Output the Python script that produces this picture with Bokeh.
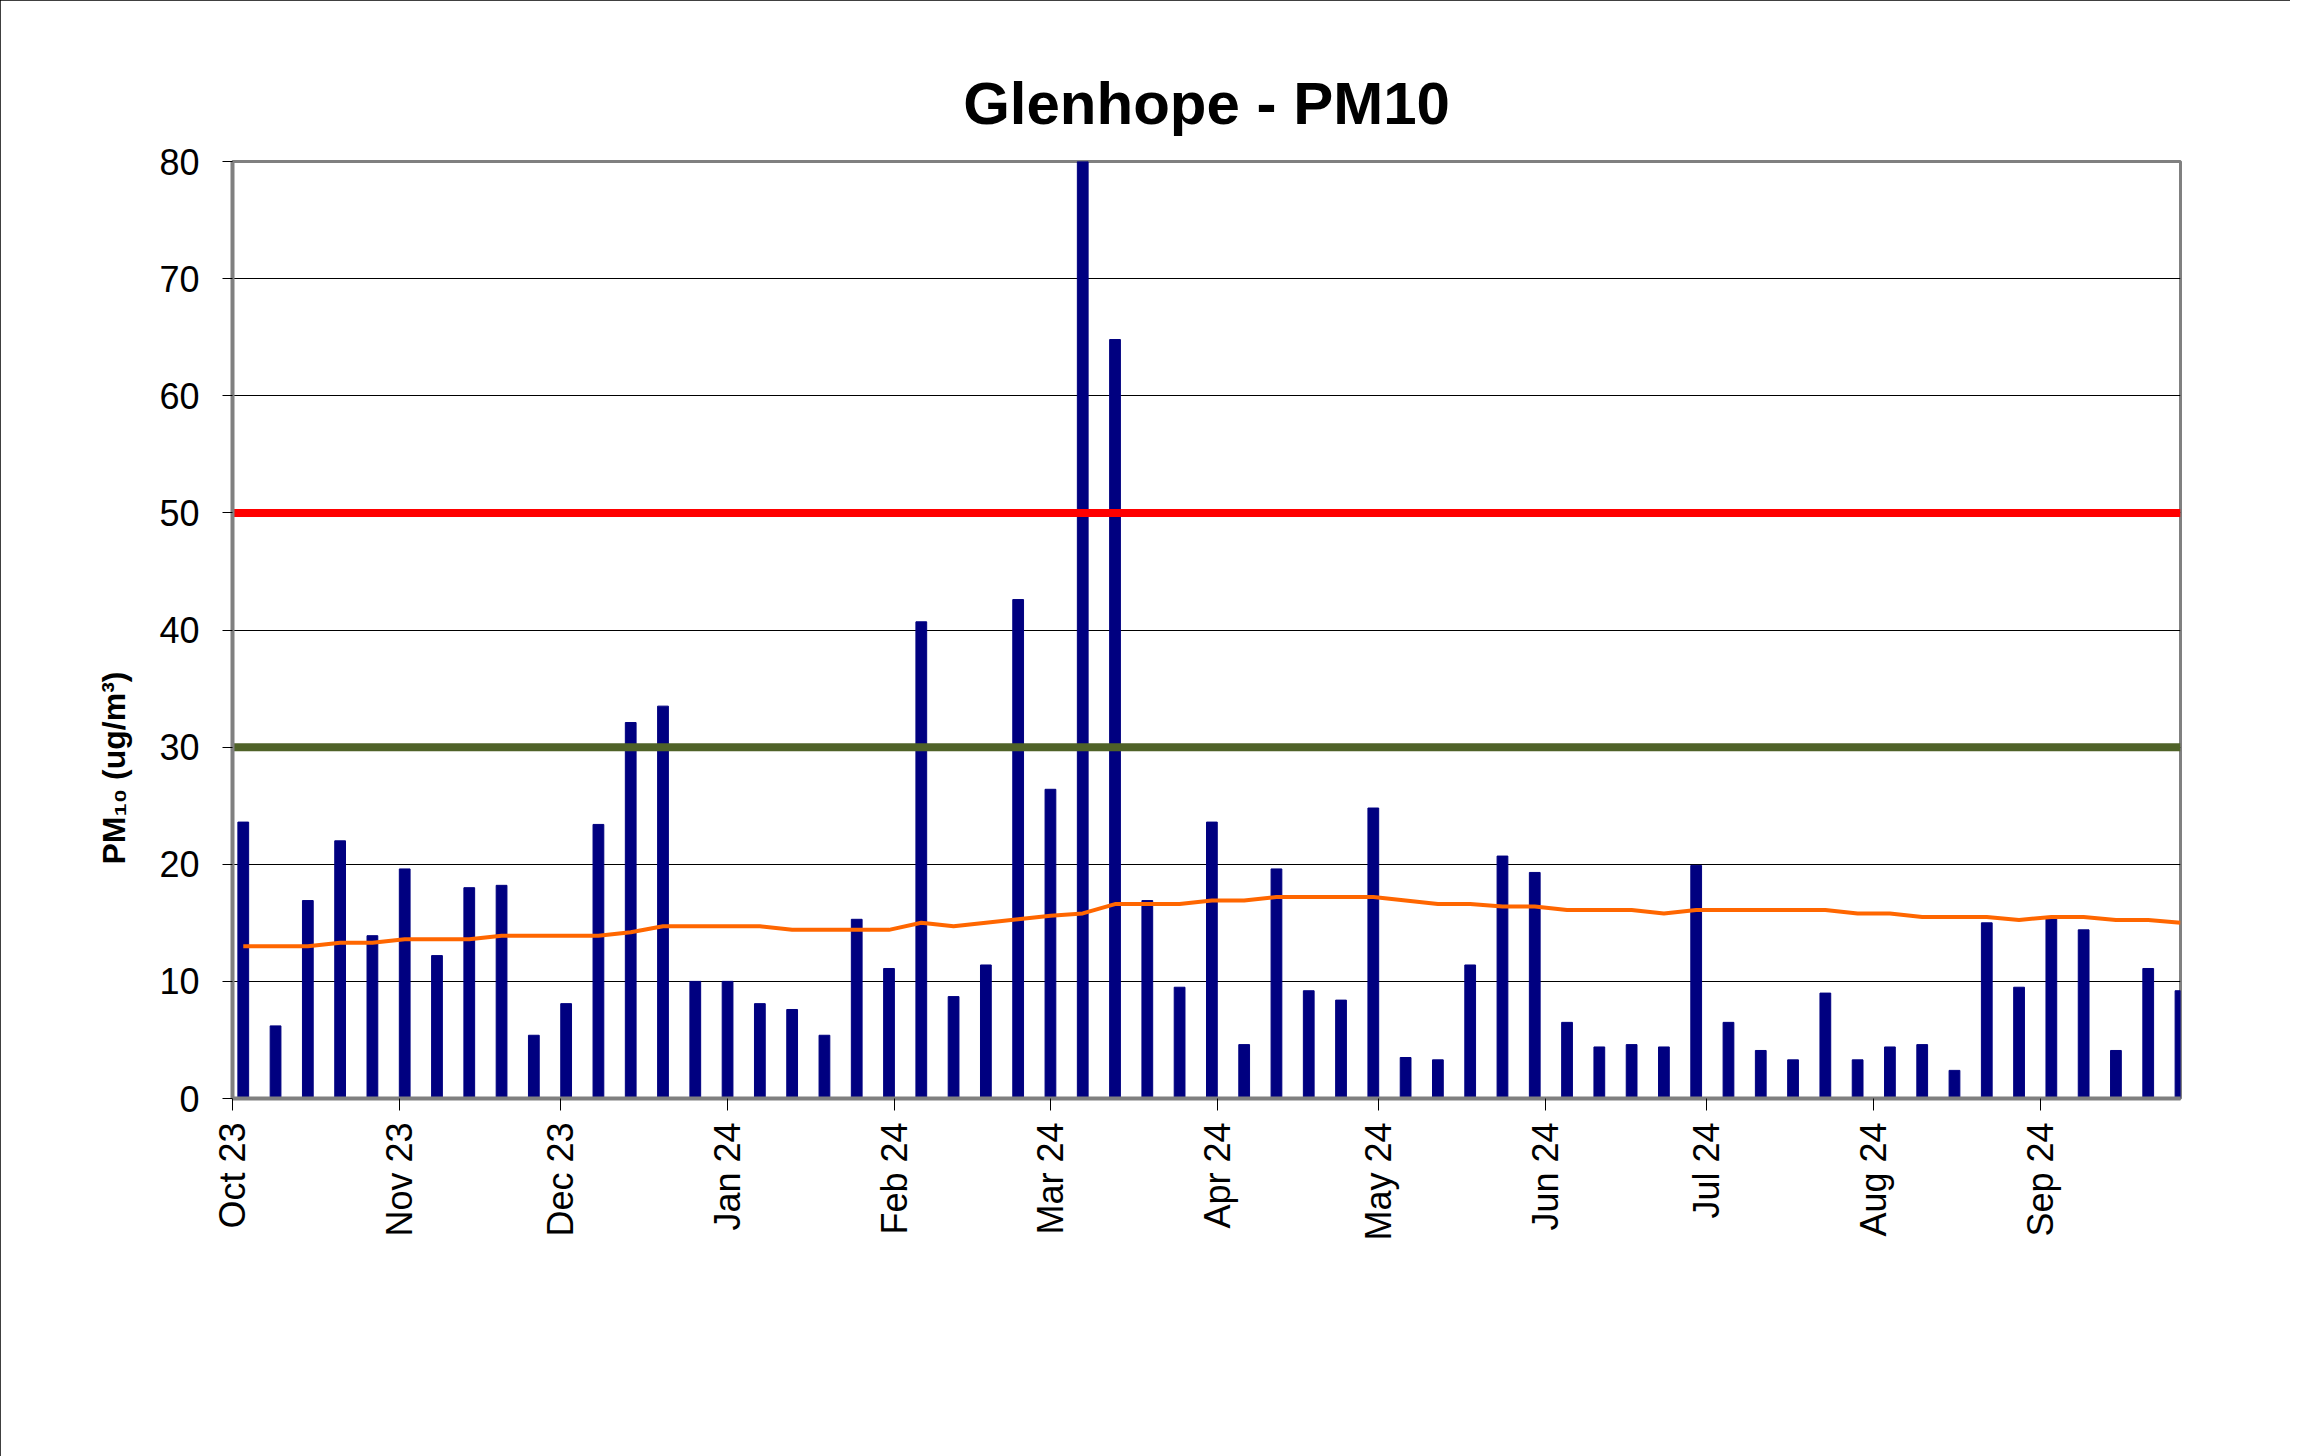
import math
import pandas as pd
from bokeh.plotting import figure
from bokeh.models import (FixedTicker, DatetimeTickFormatter, Legend, LegendItem,
                          Title, Range1d, ColumnDataSource)
from bokeh.embed import file_html
from bokeh.resources import INLINE

# ---------------- data ----------------
sample_dates = [
    "2023-10-03", "2023-10-09", "2023-10-15", "2023-10-21", "2023-10-27",
    "2023-11-02", "2023-11-08", "2023-11-14", "2023-11-20", "2023-11-26",
    "2023-12-02", "2023-12-08", "2023-12-14", "2023-12-20", "2023-12-26",
    "2024-01-01", "2024-01-07", "2024-01-13", "2024-01-19", "2024-01-25", "2024-01-31",
    "2024-02-06", "2024-02-12", "2024-02-18", "2024-02-24",
    "2024-03-01", "2024-03-07", "2024-03-13", "2024-03-19", "2024-03-25", "2024-03-31",
    "2024-04-06", "2024-04-12", "2024-04-18", "2024-04-24", "2024-04-30",
    "2024-05-06", "2024-05-12", "2024-05-18", "2024-05-24", "2024-05-30",
    "2024-06-05", "2024-06-11", "2024-06-17", "2024-06-23", "2024-06-29",
    "2024-07-05", "2024-07-11", "2024-07-17", "2024-07-23", "2024-07-29",
    "2024-08-04", "2024-08-10", "2024-08-16", "2024-08-22", "2024-08-28",
    "2024-09-03", "2024-09-09", "2024-09-15", "2024-09-21", "2024-09-27",
]
pm10 = [
    23.6, 6.2, 16.9, 22.0, 13.9,
    19.6, 12.2, 18.0, 18.2, 5.4,
    8.1, 23.4, 32.1, 33.5, 10.0,
    10.0, 8.1, 7.6, 5.4, 15.3, 11.1,
    40.7, 8.7, 11.4, 42.6,
    26.4, 80.0, 64.8, 16.9, 9.5, 23.6,
    4.6, 19.6, 9.2, 8.4, 24.8,
    3.5, 3.3, 11.4, 20.7, 19.3,
    6.5, 4.4, 4.6, 4.4, 19.9,
    6.5, 4.1, 3.3, 9.0, 3.3,
    4.4, 4.6, 2.4, 15.0, 9.5,
    15.5, 14.4, 4.1, 11.1, 9.2,
]
rolling_avg = [
    13.0, 13.0, 13.0, 13.3, 13.3,
    13.6, 13.6, 13.6, 13.9, 13.9,
    13.9, 13.9, 14.2, 14.7, 14.7,
    14.7, 14.7, 14.4, 14.4, 14.4, 14.4,
    15.0, 14.7, 15.0, 15.3,
    15.6, 15.8, 16.6, 16.6, 16.6, 16.9,
    16.9, 17.2, 17.2, 17.2, 17.2,
    16.9, 16.6, 16.6, 16.4, 16.4,
    16.1, 16.1, 16.1, 15.8, 16.1,
    16.1, 16.1, 16.1, 16.1, 15.8,
    15.8, 15.5, 15.5, 15.5, 15.25,
    15.5, 15.5, 15.25, 15.25, 15.0,
]
crit_24hr = 50
crit_annual = 30
month_ticks = ["2023-10-01", "2023-11-01", "2023-12-01", "2024-01-01", "2024-02-01",
               "2024-03-01", "2024-04-01", "2024-05-01", "2024-06-01", "2024-07-01",
               "2024-08-01", "2024-09-01"]
month_labels = ["Oct 23", "Nov 23", "Dec 23", "Jan 24", "Feb 24", "Mar 24",
                "Apr 24", "May 24", "Jun 24", "Jul 24", "Aug 24", "Sep 24"]
y_ticks = [0, 10, 20, 30, 40, 50, 60, 70, 80]
x_start = "2023-10-01"
x_end = "2024-09-27"

# ---------------- helpers ----------------
def ms(d):
    return pd.Timestamp(d).value // 10**6

DAY = 86400000
FONT = "Liberation Sans"

dates = [pd.Timestamp(d) for d in sample_dates]
src = ColumnDataSource(dict(x=dates, pm=pm10, ra=rolling_avg))

p = figure(frame_width=1948, frame_height=937, x_axis_type="datetime",
           output_backend="svg", toolbar_location=None,
           x_range=Range1d(ms(x_start), ms(x_end)), y_range=Range1d(0, 80),
           min_border_left=232, min_border_right=110,
           min_border_top=161, min_border_bottom=342)
p.background_fill_color = "white"
p.border_fill_color = "white"
p.styles = {"outline": "2px solid #000000", "outline-offset": "-2px"}

# title
p.title.text = "Glenhope - PM10"
p.title.text_font = FONT
p.title.text_font_size = "60px"
p.title.text_font_style = "bold"
p.title.text_color = "black"
p.title.align = "center"
p.title.standoff = 50

# frame
p.outline_line_color = "#808080"
p.outline_line_width = 3

# grid
p.xgrid.grid_line_color = None
p.ygrid.grid_line_color = "black"
p.ygrid.grid_line_width = 1
p.ygrid.ticker = FixedTicker(ticks=y_ticks)

# y axis
p.yaxis.ticker = FixedTicker(ticks=y_ticks)
p.yaxis.axis_line_color = "#808080"
p.yaxis.axis_line_width = 4
p.yaxis.major_tick_line_color = "black"
p.yaxis.major_tick_out = 10
p.yaxis.major_tick_in = 0
p.yaxis.minor_tick_line_color = None
p.yaxis.major_label_text_font = FONT
p.yaxis.major_label_text_font_size = "36px"
p.yaxis.major_label_text_color = "black"
p.yaxis.major_label_standoff = 23

# x axis
tick_ms = [ms(d) for d in month_ticks]
p.xaxis.ticker = FixedTicker(ticks=tick_ms)
fmt = "%b %y"
p.xaxis.formatter = DatetimeTickFormatter(
    milliseconds=fmt, seconds=fmt, minsec=fmt, minutes=fmt, hourmin=fmt, hours=fmt,
    days=fmt, months=fmt, years=fmt)
p.xaxis.major_label_overrides = {t: lab for t, lab in zip(tick_ms, month_labels)}
p.xaxis.major_label_orientation = math.pi / 2
p.xaxis.axis_line_color = "#808080"
p.xaxis.axis_line_width = 4
p.xaxis.major_tick_line_color = "black"
p.xaxis.major_tick_out = 12
p.xaxis.major_tick_in = 0
p.xaxis.minor_tick_line_color = None
p.xaxis.major_label_text_font = FONT
p.xaxis.major_label_text_font_size = "36px"
p.xaxis.major_label_text_color = "black"
p.xaxis.major_label_standoff = 12

# glyphs
bars = p.vbar(x="x", top="pm", width=2.0 * DAY, source=src,
              fill_color="#000080", line_color="#000080")
xr = [pd.Timestamp(x_start), pd.Timestamp(x_end)]
red = p.line(x=xr, y=[crit_24hr, crit_24hr], line_color="#FF0000", line_width=8)
green = p.line(x=xr, y=[crit_annual, crit_annual], line_color="#4F6228", line_width=8)
orange = p.line(x="x", y="ra", source=src, line_color="#FF6600", line_width=4)

# y-axis label as a side title
ylab = Title(text="PM₁₀ (ug/m³)", align="left", offset=234, standoff=50,
             text_font=FONT, text_font_size="32px", text_font_style="bold",
             text_color="black")
p.add_layout(ylab, "left")

legend = Legend(items=[
    LegendItem(label="Glenhope - PM10", renderers=[bars]),
    LegendItem(label="Rolling Annual Average", renderers=[orange]),
    LegendItem(label="PM10 24hr Criteria", renderers=[red]),
    LegendItem(label="PM10 Annual Criteria", renderers=[green]),
], orientation="horizontal", location="center")
legend.label_text_font = FONT
legend.label_text_font_size = "33px"
legend.label_text_color = "black"
legend.glyph_width = 92
legend.glyph_height = 30
legend.label_standoff = 6
legend.spacing = 18
legend.padding = 0
legend.margin = 80
legend.border_line_color = None
legend.background_fill_alpha = 0
p.add_layout(legend, "below")

open("out.html", "w").write(file_html(p, INLINE))
